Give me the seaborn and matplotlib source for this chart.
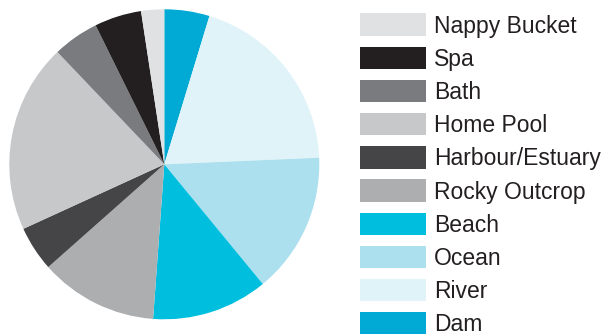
import matplotlib
matplotlib.use("Agg")
import matplotlib.pyplot as plt
from matplotlib.patches import Rectangle
import seaborn as sns

# Data (pie order, clockwise from 12 o'clock)
categories = ["Dam", "River", "Ocean", "Beach", "Rocky Outcrop",
              "Harbour/Estuary", "Home Pool", "Bath", "Spa", "Nappy Bucket"]
shares = [4.7, 19.6, 14.7, 12.1, 12.3, 4.7, 19.7, 4.8, 4.9, 2.4]
colors = ["#00AAD4", "#E0F3F8", "#ADE0EE", "#00BFDE", "#ADAEB0",
          "#454547", "#C7C8CA", "#7A7B7F", "#231F20", "#E0E1E3"]

sns.set_theme(style="white")
plt.rcParams["font.family"] = ["Liberation Sans", "DejaVu Sans"]

W, H = 604, 334
fig = plt.figure(figsize=(W / 100, H / 100), dpi=100)
fig.patch.set_facecolor("white")

cx, cy, r = 164.3, 164.3, 155.0
ax = fig.add_axes([(cx - r) / W, (H - cy - r) / H, 2 * r / W, 2 * r / H])
ax.pie(shares, colors=colors, startangle=90, counterclock=False,
       radius=1.0, wedgeprops=dict(linewidth=0))
ax.set_xlim(-1, 1)
ax.set_ylim(-1, 1)
ax.set_aspect("equal")
ax.axis("off")

# Legend (reverse order)
leg_ax = fig.add_axes([0, 0, 1, 1])
leg_ax.set_xlim(0, W)
leg_ax.set_ylim(H, 0)
leg_ax.axis("off")
for i, (lab, col) in enumerate(zip(categories[::-1], colors[::-1])):
    top = 13.3 + i * 33.2
    leg_ax.add_patch(Rectangle((360, top), 66, 22.4, facecolor=col, edgecolor="none"))
    leg_ax.text(434, top + 19.2, lab, fontsize=16.5, color="#231F20",
                va="baseline", ha="left")

fig.savefig("out.png", dpi=100, facecolor="white")
